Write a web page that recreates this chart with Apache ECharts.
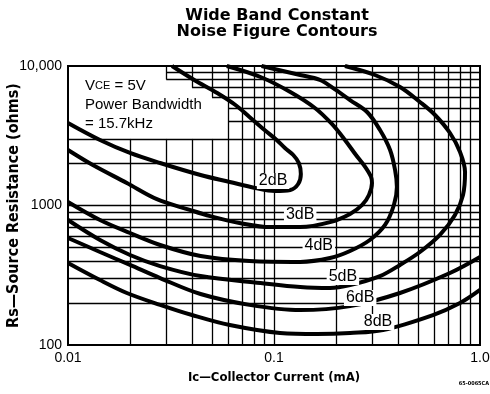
<!DOCTYPE html>
<html><head><meta charset="utf-8">
<script src="https://cdn.jsdelivr.net/npm/echarts@6.0.0/dist/echarts.min.js"></script>
<style>html,body{margin:0;padding:0;background:#fff}#c{width:490px;height:394px}</style>
</head><body><div id="c"></div>
<script>
// ---- tick labels ----
const xTickValues = [0.01, 0.1, 1];
const xTickLabels = ['0.01', '0.1', '1.0'];
const yTickValues = [100, 1000, 10000];
const yTickLabels = ['100', '1000', '10,000'];
// ---- grid line positions (log graph paper) ----
const xGridValues = [0.02,0.03,0.04,0.05,0.06,0.07,0.08,0.09,0.1,0.2,0.3,0.4,0.5,0.6,0.7,0.8,0.9];
const yGridValues = [200,300,400,500,600,700,800,900,1000,2000,3000,4000,5000,6000,7000,8000,9000];
// legend box (upper left, no grid): stepped strips [x right edge, y low, y high]
const boxX = [0.03, 0.04, 0.05, 0.06];
const boxYLow = [8000, 7000, 6000, 3000];
const boxYHigh = [10000, 8000, 7000, 6000];
// ---- contour series: [Ic (mA), Rs (ohms)] ----
const nf2dB = [[0.032,10000],[0.041,7940],[0.053,6405],[0.065,5252],[0.076,4309],[0.090,3477],[0.103,2948],[0.113,2584],[0.124,2301],[0.132,2017],[0.135,1682],[0.131,1426],[0.120,1292],[0.101,1270],[0.081,1335],[0.061,1474],[0.044,1654],[0.028,2017],[0.020,2380],[0.0143,2948],[0.010,3903]];
const nf3dB = [[0.059,10000],[0.086,8340],[0.120,6510],[0.158,5000],[0.191,3840],[0.221,2948],[0.250,2300],[0.277,1890],[0.296,1600],[0.299,1450],[0.289,1190],[0.268,1010],[0.234,870],[0.187,760],[0.134,700],[0.096,700],[0.068,750],[0.049,840],[0.039,930],[0.027,1110],[0.0193,1450],[0.0132,1950],[0.010,2500]];
const nf4dB = [[0.087,10000],[0.134,8620],[0.167,7940],[0.193,6960],[0.234,5700],[0.283,4680],[0.327,3477],[0.366,2500],[0.387,1797],[0.395,1357],[0.382,1008],[0.346,725],[0.292,566],[0.234,472],[0.187,420],[0.134,394],[0.076,400],[0.044,434],[0.028,521],[0.020,635],[0.0143,787],[0.010,1060]];
const nf5dB = [[0.221,10000],[0.309,8620],[0.409,7072],[0.511,5520],[0.605,4453],[0.715,3309],[0.800,2418],[0.846,1739],[0.827,1190],[0.756,855],[0.639,615],[0.511,464],[0.409,375],[0.327,312],[0.234,269],[0.187,256],[0.134,260],[0.086,278],[0.044,312],[0.028,368],[0.020,442],[0.0143,566],[0.010,787]];
const nf6dB = [[0.010,585],[0.0143,464],[0.020,375],[0.028,302],[0.044,232],[0.076,194],[0.134,178],[0.234,190],[0.409,236],[0.715,328],[1.0,427]];
const nf8dB = [[0.010,387],[0.0143,292],[0.0193,236],[0.028,194],[0.040,164],[0.061,139],[0.107,122],[0.162,120],[0.234,122],[0.338,128],[0.591,164],[0.800,200],[1.0,248]];
// ---- curve labels ----
const labelNames = ['2dB','3dB','4dB','5dB','6dB','8dB'];
const labelX = [0.099, 0.134, 0.165, 0.216, 0.262, 0.320];
const labelY = [1500, 855, 513, 307, 217, 146];

const curves = [nf2dB, nf3dB, nf4dB, nf5dB, nf6dB, nf8dB];
const X_MIN = 0.01, X_MAX = 1, Y_MIN = 100, Y_MAX = 10000;

function tickFmt(vals, labs) {
  return function (v) {
    for (let i = 0; i < vals.length; i++) {
      if (Math.abs(Math.log10(v) - Math.log10(vals[i])) < 1e-6) return labs[i];
    }
    return '';
  };
}

// grid segments that skip the legend box
const gridSegs = [];
xGridValues.forEach(x => {
  // hidden y-interval: strips that extend strictly beyond x
  let lo = Infinity, hi = -Infinity;
  boxX.forEach((bx, i) => { if (bx > x + 1e-9) { lo = Math.min(lo, boxYLow[i]); hi = Math.max(hi, boxYHigh[i]); } });
  if (lo === Infinity) {
    gridSegs.push([{coord: [x, Y_MIN]}, {coord: [x, Y_MAX]}]);
  } else {
    gridSegs.push([{coord: [x, Y_MIN]}, {coord: [x, lo]}]);
    if (hi < Y_MAX) gridSegs.push([{coord: [x, hi]}, {coord: [x, Y_MAX]}]);
  }
});
yGridValues.forEach(y => {
  let above = X_MIN, below = X_MIN;
  boxX.forEach((bx, i) => {
    if (boxYLow[i] <= y && y < boxYHigh[i]) above = bx;
    if (boxYLow[i] < y && y <= boxYHigh[i]) below = bx;
  });
  const start = Math.min(above, below);
  gridSegs.push([{coord: [start, y]}, {coord: [X_MAX, y]}]);
});

const chart = echarts.init(document.getElementById('c'), null, {renderer: 'canvas'});
const series = [];
series.push({
  type: 'line', data: [], z: 1, silent: true,
  markLine: {
    silent: true, symbol: ['none', 'none'], animation: false, z: 1,
    label: {show: false},
    lineStyle: {color: '#000', width: 1.3, type: 'solid', opacity: 1},
    emphasis: {disabled: true},
    data: gridSegs
  }
});
curves.forEach((d, i) => {
  series.push({
    type: 'line', name: labelNames[i], data: d, z: 3,
    symbol: 'none', showSymbol: false, smooth: 0.35, clip: true,
    lineStyle: {color: '#000', width: 4},
    emphasis: {disabled: true}, silent: true
  });
});
series.push({
  type: 'scatter', z: 5, symbolSize: 1, silent: true,
  itemStyle: {color: '#fff', opacity: 1},
  emphasis: {disabled: true},
  data: labelX.map((x, i) => ({name: labelNames[i], value: [x, labelY[i]]})),
  label: {
    show: true, position: 'inside', formatter: '{b}',
    backgroundColor: '#fff', padding: [0, 2, 0, 2], opacity: 1,
    color: '#000', fontSize: 16, fontFamily: 'Liberation Sans'
  }
});

const option = {
  animation: false,
  backgroundColor: '#fff',
  title: {
    text: 'Wide Band Constant\nNoise Figure Contours',
    left: 277, top: 8, textAlign: 'center', padding: 0,
    textStyle: {fontFamily: 'DejaVu Sans', fontWeight: 'bold', fontSize: 16, lineHeight: 16, color: '#000'}
  },
  grid: {
    left: 68, right: 10, top: 66, bottom: 49,
    show: true, borderColor: '#000', borderWidth: 2, backgroundColor: 'transparent',
    z: 10, outerBoundsMode: 'none', containLabel: false
  },
  xAxis: {
    type: 'log', logBase: 10, min: X_MIN, max: X_MAX,
    splitLine: {show: false}, axisLine: {show: false}, axisTick: {show: false},
    minorTick: {show: false}, minorSplitLine: {show: false},
    axisLabel: {
      margin: 6, fontSize: 14, color: '#000', fontFamily: 'Liberation Sans',
      showMinLabel: true, showMaxLabel: true, hideOverlap: false,
      formatter: tickFmt(xTickValues, xTickLabels)
    },
    name: 'Ic\u2014Collector Current (mA)', nameLocation: 'middle', nameGap: 26, nameMoveOverlap: false,
    nameTextStyle: {fontFamily: 'Liberation Sans Narrow, DejaVu Sans Condensed, sans-serif', fontWeight: 'bold', fontSize: 13, color: '#000'}
  },
  yAxis: {
    type: 'log', logBase: 10, min: Y_MIN, max: Y_MAX,
    splitLine: {show: false}, axisLine: {show: false}, axisTick: {show: false},
    minorTick: {show: false}, minorSplitLine: {show: false},
    axisLabel: {
      margin: 6, fontSize: 14, color: '#000', fontFamily: 'Liberation Sans',
      showMinLabel: true, showMaxLabel: true, hideOverlap: false,
      formatter: tickFmt(yTickValues, yTickLabels)
    },
    name: 'Rs\u2014Source Resistance (ohms)', nameLocation: 'middle', nameGap: 46, nameRotate: 90, nameMoveOverlap: false,
    nameTextStyle: {fontFamily: 'Liberation Sans Narrow, DejaVu Sans Condensed, sans-serif', fontWeight: 'bold', fontSize: 16, color: '#000'}
  },
  graphic: [
    {
      type: 'text', left: 85, top: 78, z: 50,
      style: {
        text: '{v|V}{s|CE}{v| = 5V}\n{v|Power Bandwidth}\n{v|= 15.7kHz}',
        fill: '#000',
        rich: {
          v: {fontSize: 15, fontFamily: 'Liberation Sans', lineHeight: 19, fill: '#000'},
          s: {fontSize: 11, fontFamily: 'Liberation Sans', lineHeight: 19, fill: '#000'}
        }
      }
    },
    {
      type: 'text', right: 1, top: 381, z: 50,
      style: {text: '65-0065CA', fill: '#000', font: 'bold 5.5px "Liberation Sans Narrow", "DejaVu Sans Condensed", sans-serif'}
    }
  ],
  series: series
};
chart.setOption(option);
</script>
</body></html>
